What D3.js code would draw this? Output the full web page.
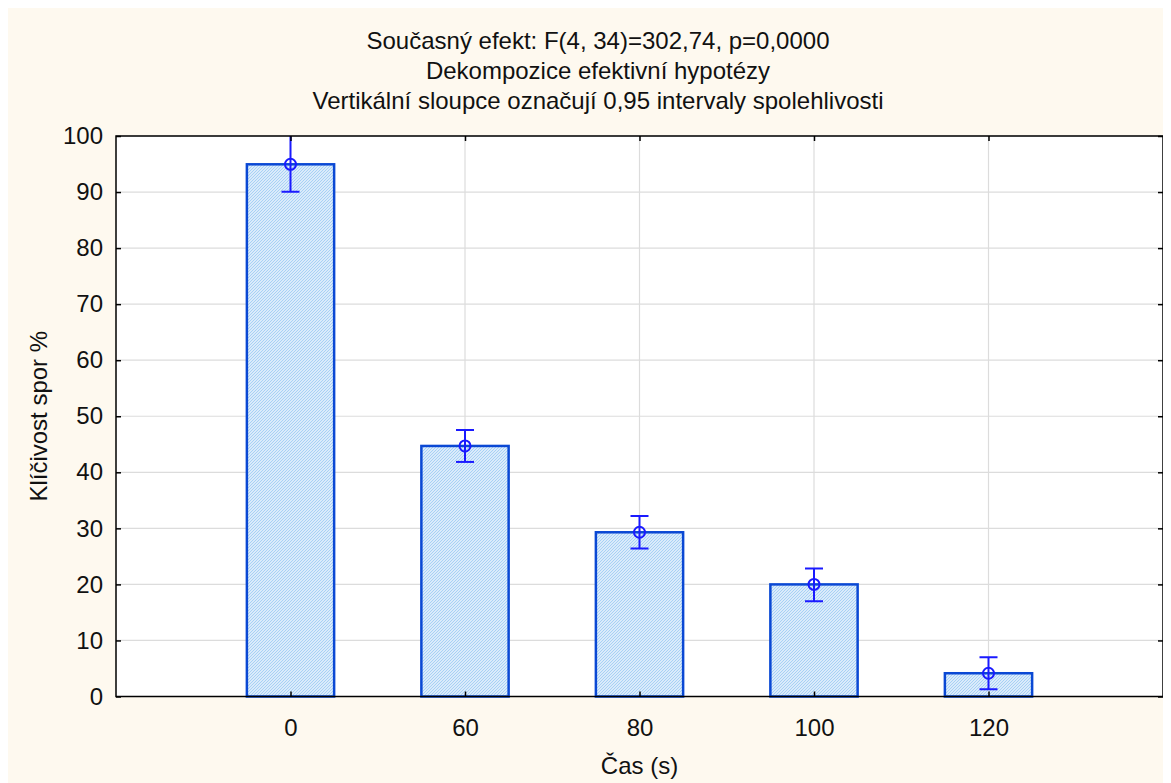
<!DOCTYPE html>
<html>
<head>
<meta charset="utf-8">
<script src="https://cdn.jsdelivr.net/npm/d3@7"></script>
<style>
body { margin: 8px; overflow: hidden; background: #fff; }
svg { display: block; font-family: "Liberation Sans", Arial, sans-serif; }
</style>
</head>
<body>
<svg></svg>
<script>
// Data
var categories = ["0", "60", "80", "100", "120"];
var means = [94.95, 44.7, 29.3, 20.0, 4.15];
var ciLow = [90.05, 41.85, 26.4, 17.0, 1.3];
var ciHigh = [100.4, 47.55, 32.2, 22.85, 7.0];
var yTicks = [0, 10, 20, 30, 40, 50, 60, 70, 80, 90, 100];
var titleLines = [
    "Současný efekt: F(4, 34)=302,74, p=0,0000",
    "Dekompozice efektivní hypotézy",
    "Vertikální sloupce označují 0,95 intervaly spolehlivosti"
];

var width = 1163, height = 775;
// plot box (svg coords)
var plotL = 108, plotT = 128, plotR = 1155, plotB = 688.5;
var fontSize = "24px";

var svg = d3.select("svg")
    .attr("width", width)
    .attr("height", height);

svg.append("rect")
    .attr("width", width)
    .attr("height", height)
    .attr("fill", "#fef9ef");

// hatched fill for the bars
var defs = svg.append("defs");
var pat = defs.append("pattern")
    .attr("id", "hatch")
    .attr("patternUnits", "userSpaceOnUse")
    .attr("width", 3)
    .attr("height", 3);
pat.append("rect").attr("width", 3).attr("height", 3).attr("fill", "#f0f7fe");
pat.append("path")
    .attr("d", "M0,3 L3,0 M-1,1 L1,-1 M2,4 L4,2")
    .attr("stroke", "#a4cff4")
    .attr("stroke-width", 1.1);

defs.append("clipPath").attr("id", "plotclip")
    .append("rect")
    .attr("x", plotL).attr("y", plotT)
    .attr("width", plotR - plotL).attr("height", plotB - plotT);

// scales
var x = d3.scalePoint()
    .domain(categories)
    .range([plotL, plotR])
    .padding(1);

var y = d3.scaleLinear()
    .domain([0, 100])
    .range([plotB, plotT]);

var barWidth = x.step() * 0.5;

// plot background
svg.append("rect")
    .attr("x", plotL).attr("y", plotT)
    .attr("width", plotR - plotL).attr("height", plotB - plotT)
    .attr("fill", "#fff");

// grid lines
var grid = svg.append("g");
grid.selectAll(".hgrid")
    .data(yTicks)
    .enter().append("line")
    .attr("x1", plotL).attr("x2", plotR)
    .attr("y1", d => y(d)).attr("y2", d => y(d))
    .attr("stroke", "#dcdcdc")
    .attr("stroke-width", 1.2);
grid.selectAll(".vgrid")
    .data(categories)
    .enter().append("line")
    .attr("x1", d => x(d)).attr("x2", d => x(d))
    .attr("y1", plotT).attr("y2", plotB)
    .attr("stroke", "#dcdcdc")
    .attr("stroke-width", 1.2);

// bars
svg.append("g")
    .selectAll("rect")
    .data(categories)
    .enter().append("rect")
    .attr("x", d => x(d) - barWidth / 2)
    .attr("y", (d, i) => y(means[i]))
    .attr("width", barWidth)
    .attr("height", (d, i) => y(0) - y(means[i]))
    .attr("fill", "url(#hatch)")
    .attr("stroke", "#0a48d4")
    .attr("stroke-width", 2.5);

// error bars
var err = svg.append("g")
    .attr("clip-path", "url(#plotclip)")
    .attr("stroke", "#1a1aff")
    .attr("stroke-width", 2)
    .attr("fill", "none");
var capW = 9;
categories.forEach(function(c, i) {
    var cx = x(c);
    err.append("line")
        .attr("x1", cx).attr("x2", cx)
        .attr("y1", y(ciLow[i])).attr("y2", y(ciHigh[i]));
    err.append("line")
        .attr("x1", cx - capW).attr("x2", cx + capW)
        .attr("y1", y(ciLow[i])).attr("y2", y(ciLow[i]));
    err.append("line")
        .attr("x1", cx - capW).attr("x2", cx + capW)
        .attr("y1", y(ciHigh[i])).attr("y2", y(ciHigh[i]));
    err.append("circle")
        .attr("cx", cx).attr("cy", y(means[i]))
        .attr("r", 5.5);
});

// axes with inward ticks
var yAxis = svg.append("g")
    .attr("transform", "translate(" + plotL + ",0)")
    .call(d3.axisLeft(y).tickValues(yTicks).tickSize(-5).tickPadding(13));
var xAxis = svg.append("g")
    .attr("transform", "translate(0," + plotB + ")")
    .call(d3.axisBottom(x).tickSize(-5).tickPadding(22));
var yAxisR = svg.append("g")
    .attr("transform", "translate(" + plotR + ",0)")
    .call(d3.axisRight(y).tickValues(yTicks).tickSize(-5).tickFormat(""));
var xAxisT = svg.append("g")
    .attr("transform", "translate(0," + plotT + ")")
    .call(d3.axisTop(x).tickSize(-5).tickFormat(""));

[yAxis, xAxis, yAxisR, xAxisT].forEach(function(a) {
    a.select(".domain").remove();
    a.selectAll(".tick line").attr("stroke", "#000").attr("stroke-width", 1.5);
    a.selectAll("text")
        .attr("fill", "#111")
        .style("font-size", fontSize)
        .style("font-family", "'Liberation Sans', Arial, sans-serif");
});

// frame
svg.append("rect")
    .attr("x", plotL).attr("y", plotT)
    .attr("width", plotR - plotL).attr("height", plotB - plotT)
    .attr("fill", "none")
    .attr("stroke", "#000")
    .attr("stroke-width", 1.5);

// titles
svg.append("g")
    .selectAll("text")
    .data(titleLines)
    .enter().append("text")
    .attr("x", 590)
    .attr("y", (d, i) => 41 + i * 30)
    .attr("text-anchor", "middle")
    .style("font-size", fontSize)
    .attr("fill", "#111")
    .text(d => d);

svg.append("text")
    .attr("x", (plotL + plotR) / 2)
    .attr("y", 766)
    .attr("text-anchor", "middle")
    .style("font-size", fontSize)
    .attr("fill", "#111")
    .text("Čas (s)");

svg.append("text")
    .attr("transform", "translate(39," + ((plotT + plotB) / 2) + ") rotate(-90)")
    .attr("text-anchor", "middle")
    .style("font-size", fontSize)
    .attr("fill", "#111")
    .text("Klíčivost spor %");
</script>
</body>
</html>
